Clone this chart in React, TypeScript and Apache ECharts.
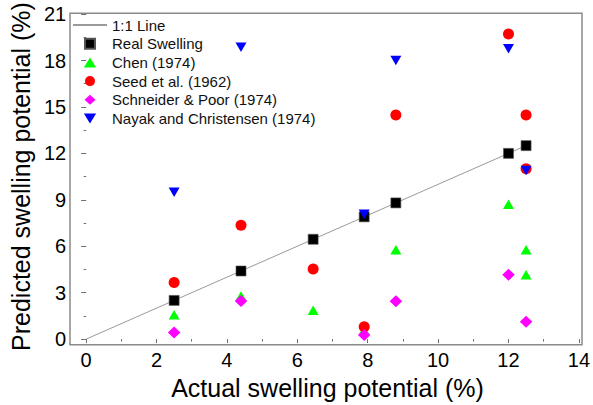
import { useEffect, useRef } from "react";
import * as echarts from "echarts";

// Actual swelling potential (%) of the tested soils and the measured (real) values
const realX = [2.5, 4.4, 6.45, 7.9, 8.8, 12, 12.5];
const realY = [2.5, 4.4, 6.45, 7.9, 8.8, 12, 12.5];

// Predicted swelling potential (%) by each empirical method
const chenX = [2.5, 4.4, 6.45, 7.9, 8.8, 12, 12.5, 12.5];
const chenY = [1.58, 2.78, 1.86, 0.58, 5.77, 8.72, 5.77, 4.15];

const seedX = [2.5, 4.4, 6.45, 7.9, 8.8, 12, 12.5, 12.5];
const seedY = [3.66, 7.36, 4.53, 0.8, 14.48, 19.72, 14.48, 11.0];

const schneiderX = [2.5, 4.4, 7.9, 8.8, 12, 12.5];
const schneiderY = [0.43, 2.46, 0.26, 2.44, 4.15, 1.12];

const nayakX = [2.5, 4.4, 7.9, 8.8, 12, 12.5];
const nayakY = [9.49, 18.85, 8.06, 18.0, 18.76, 10.9];

// 1:1 reference line end points
const lineX = [0, 12.5];

// Axis ranges
const xRange = [0, 14];
const xStep = 2;
const yRange = [0, 21];
const yStep = 3;

const FONT = "'Liberation Sans', Arial, sans-serif";

// Legend glyphs drawn as paths so they keep their proportions
const ICON_SQUARE = "path://M0,0L10,0L10,10L0,10Z";
const ICON_TRIANGLE = "path://M5.5,0L11,9L0,9Z";
const ICON_CIRCLE = "path://M0,5A5,5,0,1,1,10,5A5,5,0,1,1,0,5Z";
const ICON_DIAMOND = "path://M5.5,0L11,5L5.5,10L0,5Z";
const ICON_DOWN = "path://M0,0L11,0L5.5,9Z";

const pairs = (xs: number[], ys: number[]) => xs.map((x, i) => [x, ys[i]]);

export default function App() {
  const ref = useRef<HTMLDivElement>(null);

  useEffect(() => {
    if (!ref.current) return;
    const chart = echarts.init(ref.current, null, { renderer: "svg" });

    const tickColor = "#6e6e6e";

    chart.setOption({
      animation: false,
      backgroundColor: "#ffffff",
      grid: { left: 81, right: 11.3, top: 13.3, bottom: 64.3, containLabel: false },
      graphic: [
        {
          type: "rect",
          z: 100,
          silent: true,
          shape: { x: 70, y: 13.3, width: 512, height: 331.4 },
          style: { fill: "none", stroke: "#8a8a8a", lineWidth: 1.5 },
        },
      ],
      legend: {
        orient: "vertical",
        left: 72,
        top: 17,
        padding: 0,
        itemWidth: 34,
        itemHeight: 10,
        itemGap: 2.7,
        symbolKeepAspect: true,
        textStyle: { fontFamily: FONT, fontSize: 15, color: "#111", lineHeight: 16 },
        data: [
          { name: "1:1 Line", itemStyle: { opacity: 0, borderWidth: 0 } },
          { name: "Real Swelling", icon: ICON_SQUARE },
          { name: "Chen (1974)", icon: ICON_TRIANGLE },
          { name: "Seed et al. (1962)", icon: ICON_CIRCLE },
          { name: "Schneider & Poor (1974)", icon: ICON_DIAMOND },
          { name: "Nayak and Christensen (1974)", icon: ICON_DOWN },
        ],
      },
      xAxis: {
        type: "value",
        min: xRange[0],
        max: xRange[1],
        interval: xStep,
        offset: 4,
        name: "Actual swelling potential (%)",
        nameLocation: "middle",
        nameGap: 29,
        nameTextStyle: { fontFamily: FONT, fontSize: 25, color: "#000", padding: [0, 10, 0, 0] },
        axisLine: { show: false },
        axisTick: { show: true, inside: false, length: 4, lineStyle: { color: tickColor, width: 1 } },
        minorTick: { show: true, splitNumber: 2, length: 2.5, lineStyle: { color: tickColor, width: 1 } },
        splitLine: { show: false },
        axisLabel: { fontFamily: FONT, fontSize: 20, color: "#000", margin: 7 },
      },
      yAxis: {
        type: "value",
        min: yRange[0],
        max: yRange[1],
        interval: yStep,
        offset: 11,
        name: "Predicted swelling potential (%)",
        nameLocation: "middle",
        nameRotate: 90,
        nameGap: 34,
        nameTextStyle: { fontFamily: FONT, fontSize: 25, color: "#000" },
        axisLine: { show: false },
        axisTick: { show: true, inside: false, length: 5, lineStyle: { color: tickColor, width: 1 } },
        minorTick: { show: true, splitNumber: 2, length: 2.5, lineStyle: { color: tickColor, width: 1 } },
        splitLine: { show: false },
        axisLabel: { fontFamily: FONT, fontSize: 20, color: "#000", margin: 9 },
      },
      series: [
        {
          name: "1:1 Line",
          type: "line",
          symbol: "none",
          data: pairs(lineX, lineX),
          lineStyle: { color: "#9a9a9a", width: 1 },
          itemStyle: { color: "#9a9a9a" },
          z: 1,
        },
        {
          name: "Real Swelling",
          type: "scatter",
          symbol: "rect",
          symbolSize: 10,
          data: pairs(realX, realY),
          itemStyle: { color: "#000000", borderColor: "#555", borderWidth: 0.6, opacity: 1 },
          z: 2,
        },
        {
          name: "Chen (1974)",
          type: "scatter",
          symbol: "triangle",
          symbolSize: [11, 9.5],
          data: pairs(chenX, chenY),
          itemStyle: { color: "#00ff00", opacity: 1 },
          z: 3,
        },
        {
          name: "Seed et al. (1962)",
          type: "scatter",
          symbol: "circle",
          symbolSize: 11,
          data: pairs(seedX, seedY),
          itemStyle: { color: "#ff0000", opacity: 1 },
          z: 4,
        },
        {
          name: "Schneider & Poor (1974)",
          type: "scatter",
          symbol: "diamond",
          symbolSize: [12.5, 12],
          data: pairs(schneiderX, schneiderY),
          itemStyle: { color: "#ff00ff", opacity: 1 },
          z: 5,
        },
        {
          name: "Nayak and Christensen (1974)",
          type: "scatter",
          symbol: "triangle",
          symbolRotate: 180,
          symbolSize: [11, 9.5],
          data: pairs(nayakX, nayakY),
          itemStyle: { color: "#0000ff", opacity: 1 },
          z: 6,
        },
      ],
    });

    return () => chart.dispose();
  }, []);

  return <div ref={ref} style={{ width: 593, height: 405, position: "absolute", left: 0, top: 0 }} />;
}
